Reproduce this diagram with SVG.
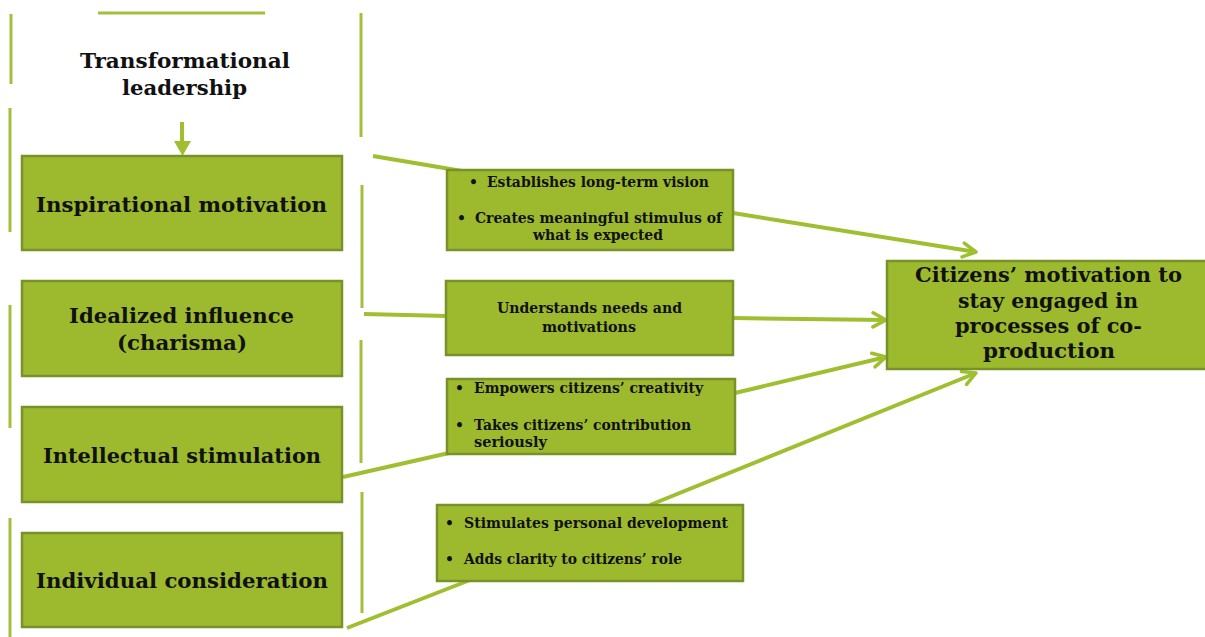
<svg xmlns="http://www.w3.org/2000/svg" width="1205" height="637" viewBox="0 0 1205 637">
<style>
.deco{stroke:#a2c03a;stroke-width:3;fill:none}
.conn{stroke:#9fbf30;stroke-width:4;fill:none}
.box{fill:#9dba2f;stroke:#78922a;stroke-width:2.5}
.t{font-family:"DejaVu Serif","Liberation Serif",serif;font-weight:bold;fill:#111}
.big{font-size:21px}
.mid{font-size:14px}
.tgt{font-size:20px}
.c{text-anchor:middle}
</style>
<defs>
<marker id="chev" viewBox="0 0 18 18" refX="15" refY="9" markerWidth="18" markerHeight="18" markerUnits="userSpaceOnUse" orient="auto">
<path d="M2,2 L15,9 L2,16" fill="none" stroke="#9fbf30" stroke-width="3.5" stroke-linecap="round" stroke-linejoin="round"/>
</marker>
</defs>
<rect width="1205" height="637" fill="#fff"/>
<g id="frame">
<line class="deco" x1="98" y1="13" x2="265" y2="13"/>
<line class="deco" x1="11" y1="14" x2="11" y2="84"/>
<line class="deco" x1="10" y1="108" x2="10" y2="232"/>
<line class="deco" x1="10" y1="305" x2="10" y2="428"/>
<line class="deco" x1="10" y1="518" x2="10" y2="637"/>
<line class="deco" x1="361" y1="13" x2="361" y2="137"/>
<line class="deco" x1="362" y1="185" x2="362" y2="308"/>
<line class="deco" x1="361" y1="340" x2="361" y2="463"/>
<line class="deco" x1="362" y1="492" x2="362" y2="613"/>
</g>
<g id="connectors">
<line class="conn" x1="182" y1="122" x2="182" y2="142"/>
<polygon points="174,141 191,141 182.5,156" fill="#9fbf30"/>
<line class="conn" x1="373" y1="156" x2="462" y2="171"/>
<line class="conn" x1="364" y1="314" x2="447" y2="316"/>
<line class="conn" x1="343" y1="477" x2="449" y2="453"/>
<line class="conn" x1="347" y1="628" x2="470" y2="580"/>
<line class="conn" x1="733" y1="213" x2="976" y2="252" marker-end="url(#chev)"/>
<line class="conn" x1="733" y1="318" x2="886" y2="320" marker-end="url(#chev)"/>
<line class="conn" x1="735" y1="393" x2="886" y2="357" marker-end="url(#chev)"/>
<line class="conn" x1="650" y1="505" x2="976" y2="373" marker-end="url(#chev)"/>
</g>
<g id="title">
<text class="t c" x="185" y="68" font-size="21" textLength="210" lengthAdjust="spacingAndGlyphs">Transformational</text>
<text class="t c" x="184.5" y="95" font-size="21" textLength="125" lengthAdjust="spacingAndGlyphs">leadership</text>
</g>
<g id="inspirational">
<rect class="box" x="22" y="156" width="320" height="94"/>
<text class="t big c" x="181.5" y="212" textLength="291" lengthAdjust="spacingAndGlyphs">Inspirational motivation</text>
</g>
<g id="idealized">
<rect class="box" x="22" y="281" width="320" height="95"/>
<text class="t big c" x="181.5" y="323" textLength="225" lengthAdjust="spacingAndGlyphs">Idealized influence</text>
<text class="t big c" x="182" y="350" textLength="130" lengthAdjust="spacingAndGlyphs">(charisma)</text>
</g>
<g id="intellectual">
<rect class="box" x="22" y="407" width="320" height="95"/>
<text class="t big c" x="182" y="463" textLength="278" lengthAdjust="spacingAndGlyphs">Intellectual stimulation</text>
</g>
<g id="individual">
<rect class="box" x="22" y="533" width="320" height="94"/>
<text class="t big c" x="182" y="588" textLength="292" lengthAdjust="spacingAndGlyphs">Individual consideration</text>
</g>
<g id="m1">
<rect class="box" x="447" y="170" width="286" height="80"/>
<text class="t mid" x="469" y="187">•</text>
<text class="t mid" x="487" y="187" textLength="222" lengthAdjust="spacingAndGlyphs">Establishes long-term vision</text>
<text class="t mid" x="457" y="223">•</text>
<text class="t mid" x="475" y="223" textLength="247" lengthAdjust="spacingAndGlyphs">Creates meaningful stimulus of</text>
<text class="t mid c" x="598" y="240" textLength="130" lengthAdjust="spacingAndGlyphs">what is expected</text>
</g>
<g id="m2">
<rect class="box" x="446" y="281" width="287" height="74"/>
<text class="t mid c" x="589.5" y="313" textLength="185" lengthAdjust="spacingAndGlyphs">Understands needs and</text>
<text class="t mid c" x="589" y="332" textLength="94" lengthAdjust="spacingAndGlyphs">motivations</text>
</g>
<g id="m3">
<rect class="box" x="447" y="379" width="288" height="75"/>
<text class="t mid" x="455" y="393">•</text>
<text class="t mid" x="474" y="393" textLength="229" lengthAdjust="spacingAndGlyphs">Empowers citizens’ creativity</text>
<text class="t mid" x="455" y="430">•</text>
<text class="t mid" x="474" y="430" textLength="217" lengthAdjust="spacingAndGlyphs">Takes citizens’ contribution</text>
<text class="t mid" x="474" y="447" textLength="73" lengthAdjust="spacingAndGlyphs">seriously</text>
</g>
<g id="m4">
<rect class="box" x="437" y="505" width="306" height="76"/>
<text class="t mid" x="445" y="528">•</text>
<text class="t mid" x="464" y="528" textLength="264" lengthAdjust="spacingAndGlyphs">Stimulates personal development</text>
<text class="t mid" x="445" y="564">•</text>
<text class="t mid" x="464" y="564" textLength="218" lengthAdjust="spacingAndGlyphs">Adds clarity to citizens’ role</text>
</g>
<g id="target">
<rect class="box" x="887" y="261" width="330" height="108"/>
<text class="t tgt c" x="1048.5" y="282" textLength="267" lengthAdjust="spacingAndGlyphs">Citizens’ motivation to</text>
<text class="t tgt c" x="1048" y="308" textLength="180" lengthAdjust="spacingAndGlyphs">stay engaged in</text>
<text class="t tgt c" x="1048.5" y="333" textLength="187" lengthAdjust="spacingAndGlyphs">processes of co-</text>
<text class="t tgt c" x="1049" y="358" textLength="132" lengthAdjust="spacingAndGlyphs">production</text>
</g>
</svg>
